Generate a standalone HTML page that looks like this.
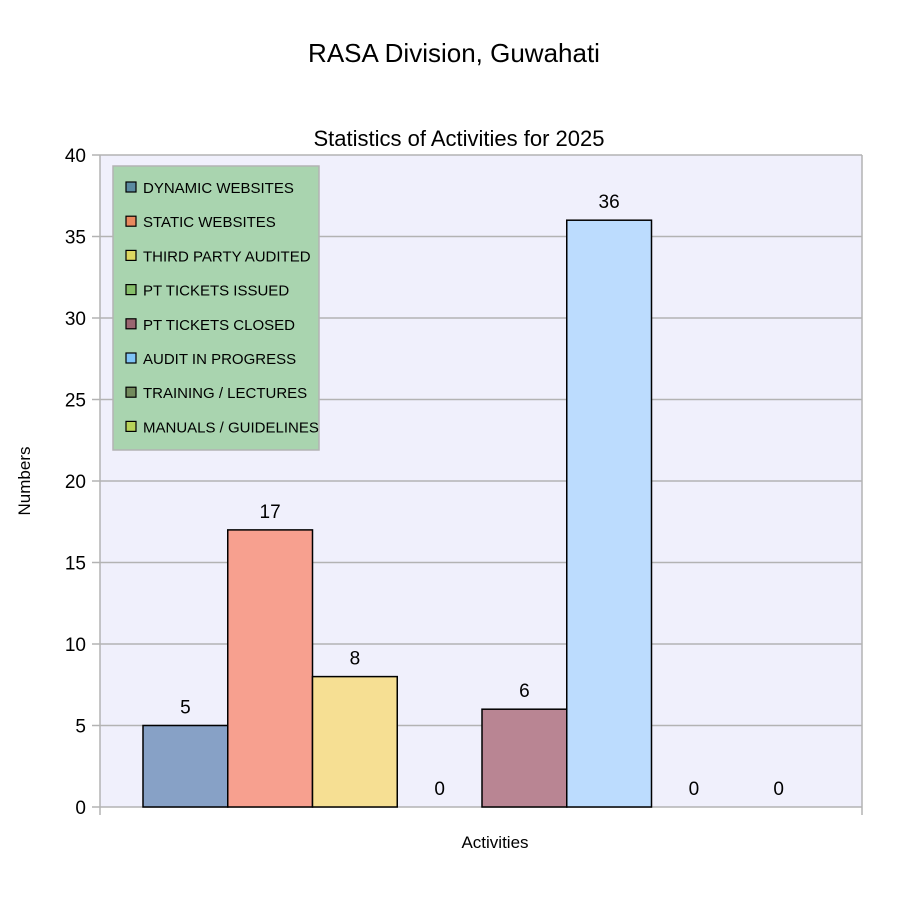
<!DOCTYPE html>
<html><head><meta charset="utf-8"><style>
html,body{margin:0;padding:0;background:#fff;width:900px;height:913px;overflow:hidden}
svg{display:block;font-family:"Liberation Sans",sans-serif}
</style></head><body>
<svg id="chart" width="900" height="913">
<text x="454" y="62" text-anchor="middle" font-size="26" fill="#000">RASA Division, Guwahati</text>
<text x="459" y="146" text-anchor="middle" font-size="22" fill="#000">Statistics of Activities for 2025</text>
<rect x="100" y="155" width="762" height="652" fill="#f0f0fc"/>
<g id="grid"></g>
<g id="bars"></g>
<text x="30" y="481" transform="rotate(-90 30 481)" text-anchor="middle" font-size="17">Numbers</text>
<text x="495" y="848" text-anchor="middle" font-size="17">Activities</text>
<g id="legend"></g>
</svg>
<script>
const categories=["DYNAMIC WEBSITES","STATIC WEBSITES","THIRD PARTY AUDITED","PT TICKETS ISSUED","PT TICKETS CLOSED","AUDIT IN PROGRESS","TRAINING / LECTURES","MANUALS / GUIDELINES"];
const values=[5,17,8,0,6,36,0,0];
const yTicks=[0,5,10,15,20,25,30,35,40];
const barColors=["#87a1c6","#f7a08f","#f6df93","#b8d89a","#b98593","#bcdcfe","#8ea57a","#d7e88a"];
const legendColors=["#5b8aa0","#e8895e","#dcd862","#86bf6a","#9a6670","#7fc4f6","#728a5c","#b7d35a"];
const NS="http://www.w3.org/2000/svg";
const X0=100,X1=862,Y0=807,Y1=155,YMAX=40;
const y=v=>Y0-(v/YMAX)*(Y0-Y1);
const bw=84.75,bx0=143;
const x=i=>bx0+i*bw;
function mk(t,a,p){const e=document.createElementNS(NS,t);for(const k in a)e.setAttribute(k,a[k]);p.appendChild(e);return e;}
const grid=document.getElementById('grid');
yTicks.forEach(t=>{
 const l=mk('line',{x1:X0-8,x2:X1,y1:y(t),y2:y(t),stroke:'#b3b3b3','stroke-width':1.5},grid);
 
 
 const tx=mk('text',{x:86,y:y(t)+7,'text-anchor':'end','font-size':19},grid);
 tx.textContent=t;
 
 
});
mk('line',{x1:X0,x2:X0,y1:Y1,y2:Y0+8,stroke:'#b3b3b3','stroke-width':1.5},grid);
mk('line',{x1:X1,x2:X1,y1:Y1,y2:Y0+8,stroke:'#b3b3b3','stroke-width':1.5},grid);
const bars=document.getElementById('bars');
values.forEach((v,i)=>{
 const r=mk('rect',{x:x(i),y:y(v),width:bw,height:Y0-y(v),fill:barColors[i],stroke:'#000','stroke-width':1.5},bars);
 
 
 const t=mk('text',{x:x(i)+bw/2,y:y(v)-12,'text-anchor':'middle','font-size':19},bars);
 t.textContent=v;
 
 
});
const lg=document.getElementById('legend');
mk('rect',{x:113,y:166,width:206,height:284,fill:'#a9d4af',stroke:'#b3b3b3','stroke-width':1.5},lg);
categories.forEach((c,i)=>{
 const yy=188+i*34.2;
 const s=mk('rect',{x:126,y:yy-6,width:10,height:10,fill:legendColors[i],stroke:'#000','stroke-width':1.2},lg);
 
 
 const t=mk('text',{x:143,y:yy+5,'font-size':15,'font-family':'"Liberation Sans Narrow","Liberation Sans",sans-serif',textLength:0},lg);
 t.removeAttribute('textLength');
 t.textContent=c;
 
 
});
</script>
</body></html>
